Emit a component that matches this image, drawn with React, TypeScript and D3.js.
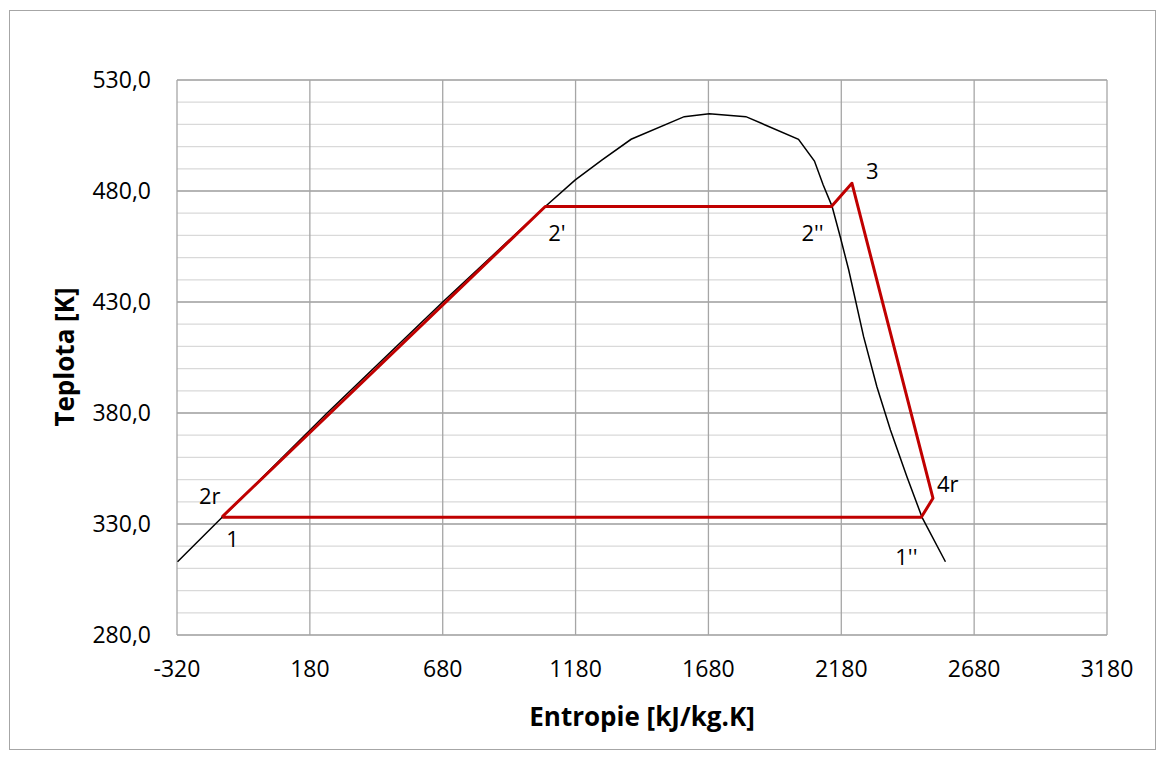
import React from 'react';
import * as d3 from 'd3';

// saturation dome (black)
const satS = [-318, -150, 245, 680, 1066, 1179, 1280, 1389, 1589, 1683, 1821, 2019, 2079, 2112, 2145, 2176, 2208, 2264, 2314, 2365, 2427, 2484, 2572];
const satT = [313, 333, 380, 430, 473, 485, 494, 503.3, 513.5, 514.8, 513.5, 503.3, 493.5, 482.7, 473.2, 459.4, 444.4, 414.4, 391.8, 372.3, 351.3, 333, 313];

// Rankine cycle (red)
const cycleNames = ['1', '2r', "2'", "2''", '3', '4r', "1''", '1'];
const cycleS = [-150, -147, 1066, 2143, 2220, 2525, 2481, -150];
const cycleT = [333, 333.6, 473, 473, 483.5, 341.6, 333, 333];

// point labels: name, offset from its point (px)
const labelNames = ['2r', '1', "2'", "2''", '3', '4r', "1''"];
const labelDx = [-24, 4, 3, -30, 14, 4, -26];
const labelDy = [-12, 30, 34, 34, -4, -6, 48];

const xTicks = [-320, 180, 680, 1180, 1680, 2180, 2680, 3180];
const yTicks = [280, 330, 380, 430, 480, 530];
const yMinor = d3.range(280, 531, 10);

export default function App() {
  const width = 1166;
  const height = 760;
  const margin = { top: 80, right: 59, bottom: 125, left: 177 };

  const x = d3.scaleLinear().domain([-320, 3180]).range([margin.left, width - margin.right]);
  const y = d3.scaleLinear().domain([280, 530]).range([height - margin.bottom, margin.top]);

  const line = d3.line<[number, number]>()
    .x(d => x(d[0]))
    .y(d => y(d[1]));

  const satPath = line(satS.map((s, i) => [s, satT[i]]));
  const cyclePath = line(cycleS.map((s, i) => [s, cycleT[i]]));

  const font = '"Open Sans", "Liberation Sans", sans-serif';

  const labelPoint = (name: string) => {
    const i = cycleNames.indexOf(name);
    return [x(cycleS[i]), y(cycleT[i])];
  };

  return (
    <svg width={width} height={height} style={{ position: 'absolute', left: 0, top: 0, background: 'white' }}>
      <rect x={9.5} y={10.5} width={1146} height={739} fill="white" stroke="#a6a6a6" />

      {/* minor grid */}
      {yMinor.map(t => (
        <line key={'m' + t} x1={x(-320)} x2={x(3180)} y1={y(t)} y2={y(t)} stroke="#d9d9d9" strokeWidth={1.3} />
      ))}
      {/* major grid */}
      {yTicks.map(t => (
        <line key={'y' + t} x1={x(-320)} x2={x(3180)} y1={y(t)} y2={y(t)} stroke="#a6a6a6" strokeWidth={1.3} />
      ))}
      {xTicks.map(t => (
        <line key={'x' + t} x1={x(t)} x2={x(t)} y1={y(280)} y2={y(530)} stroke="#a6a6a6" strokeWidth={1.3} />
      ))}

      <path d={satPath ?? ''} fill="none" stroke="black" strokeWidth={1.5} />
      <path d={cyclePath ?? ''} fill="none" stroke="#c00000" strokeWidth={3} strokeLinejoin="round" />

      {labelNames.map((n, i) => {
        const [px, py] = labelPoint(n);
        return (
          <text key={n} x={px + labelDx[i]} y={py + labelDy[i]} fontFamily={font} fontSize={22} fill="black">
            {n}
          </text>
        );
      })}

      {/* y tick labels */}
      {yTicks.map(t => (
        <text key={'yl' + t} x={151} y={y(t) + 8} textAnchor="end" fontFamily={font} fontSize={23} fill="black">
          {t.toFixed(1).replace('.', ',')}
        </text>
      ))}
      {/* x tick labels */}
      {xTicks.map(t => (
        <text key={'xl' + t} x={x(t)} y={677} textAnchor="middle" fontFamily={font} fontSize={23} fill="black">
          {t}
        </text>
      ))}

      <text x={642} y={726} textAnchor="middle" fontFamily={font} fontSize={26} fontWeight="bold">
        Entropie [kJ/kg.K]
      </text>
      <text transform={`translate(74,357) rotate(-90)`} textAnchor="middle" fontFamily={font} fontSize={26} fontWeight="bold">
        Teplota [K]
      </text>
    </svg>
  );
}
